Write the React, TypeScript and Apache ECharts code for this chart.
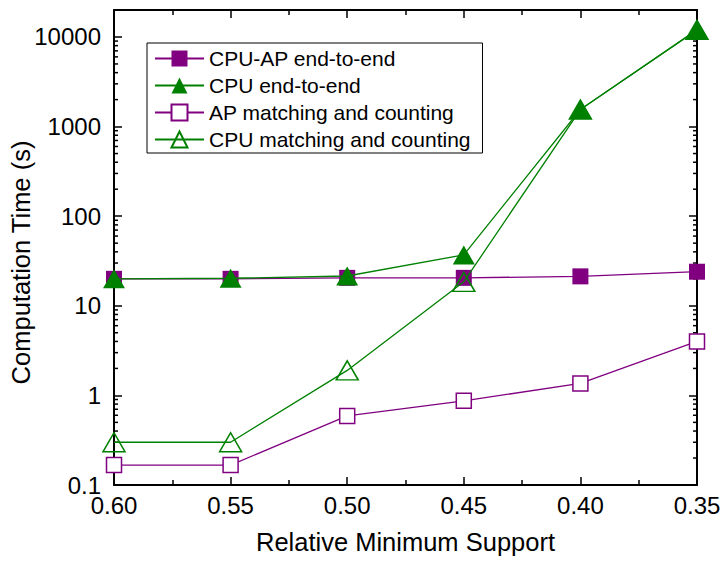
import React, { useEffect, useRef } from "react";
import * as echarts from "echarts";

const supports = [0.6, 0.55, 0.5, 0.45, 0.4, 0.35];
const cpuApEndToEnd = [20, 20, 20.5, 20.5, 21.3, 24];
const cpuEndToEnd = [20, 20.3, 21.5, 37, 1550, 12000];
const apMatching = [0.167, 0.167, 0.59, 0.87, 1.36, 4.0];
const cpuMatching = [0.3, 0.3, 1.9, 18.5, 1550, 12000];
const seriesNames = [
  "CPU-AP end-to-end",
  "CPU end-to-end",
  "AP matching and counting",
  "CPU matching and counting",
];
const yMin = 0.1;
const yMax = 20000;
const minorMultipliers = [2, 3, 4, 5, 6, 7, 8, 9];
const decades = [0.1, 1, 10, 100, 1000, 10000];

const PURPLE = "#800080";
const GREEN = "#008000";
const FONT = 'Arial, "Liberation Sans", sans-serif';

export default function App() {
  const ref = useRef<HTMLDivElement>(null);
  useEffect(() => {
    if (!ref.current) return;
    const chart = echarts.init(ref.current, null, { renderer: "svg" });
    const pair = (vals: number[]) => supports.map((s, i) => [s, vals[i]]);
    const minorVals: number[][] = [];
    decades.forEach((d) =>
      minorMultipliers.forEach((m) => {
        const v = +(d * m).toPrecision(6);
        if (v < yMax) minorVals.push([supports[0], v]);
      })
    );
    const axisLine = { show: true, lineStyle: { color: "#000", width: 2 } };
    const xCommon = {
      type: "value",
      min: 0.35,
      max: 0.6,
      interval: 0.05,
      inverse: true,
      splitLine: { show: false },
      axisLine,
      axisTick: { show: true, inside: true, length: 8, lineStyle: { color: "#000", width: 1.5 } },
      minorTick: { show: true, splitNumber: 2, length: 5, lineStyle: { color: "#000", width: 1.5 } },
    };
    const isPow10 = (v: number) => Math.abs(Math.log10(v) - Math.round(Math.log10(v))) < 1e-6;
    const yCommon = {
      type: "log",
      logBase: 10,
      min: yMin,
      max: yMax,
      splitLine: { show: false },
      axisLine,
      axisTick: { show: true, inside: true, length: 8, lineStyle: { color: "#000", width: 1.5 } },
    };
    const option: any = {
      animation: false,
      backgroundColor: "#fff",
      grid: { left: 114, right: 28, top: 10, bottom: 76, containLabel: false, outerBoundsMode: "none" },
      legend: {
        data: seriesNames,
        orient: "vertical",
        left: 147,
        top: 43,
        padding: [5, 12, 3, 7],
        itemGap: 6,
        itemWidth: 49,
        itemHeight: 20,
        borderColor: "#000",
        borderWidth: 1,
        borderRadius: 0,
        textStyle: { fontFamily: FONT, fontSize: 21, color: "#000" },
      },
      xAxis: [
        {
          ...xCommon,
          position: "bottom",
          name: "Relative Minimum Support",
          nameLocation: "middle",
          nameGap: 44,
          nameMoveOverlap: false,
          nameTextStyle: { fontFamily: FONT, fontSize: 25.5, color: "#000" },
          axisLabel: {
            fontFamily: FONT,
            fontSize: 24,
            color: "#000",
            margin: 8,
            formatter: (v: number) => v.toFixed(2),
          },
        },
        { ...xCommon, position: "top", axisLabel: { show: false } },
      ],
      yAxis: [
        {
          ...yCommon,
          position: "left",
          name: "Computation Time (s)",
          nameLocation: "middle",
          nameGap: 80,
          nameMoveOverlap: false,
          nameTextStyle: { fontFamily: FONT, fontSize: 25.5, color: "#000", padding: [0, 30, 0, 0] },
          axisLabel: {
            fontFamily: FONT,
            fontSize: 24,
            color: "#000",
            margin: 13,
            formatter: (v: number) => (isPow10(v) ? String(+v.toPrecision(6)) : ""),
          },
        },
        { ...yCommon, position: "right", axisLabel: { show: false } },
      ],
      series: [
        {
          type: "custom",
          silent: true,
          clip: false,
          z: 1,
          data: minorVals,
          renderItem: (params: any, api: any) => {
            const v = api.value(1);
            const l = api.coord([0.6, v]);
            const r = api.coord([0.35, v]);
            const st = { stroke: "#000", lineWidth: 1.5 };
            return {
              type: "group",
              children: [
                { type: "line", shape: { x1: l[0], y1: l[1], x2: l[0] + 4, y2: l[1] }, style: st },
                { type: "line", shape: { x1: r[0], y1: r[1], x2: r[0] - 4, y2: r[1] }, style: st },
              ],
            };
          },
        },
        {
          name: seriesNames[0],
          type: "line",
          data: pair(cpuApEndToEnd),
          symbol: "rect",
          symbolSize: 16,
          lineStyle: { color: PURPLE, width: 1.3 },
          itemStyle: { color: PURPLE },
          z: 3,
        },
        {
          name: seriesNames[1],
          type: "line",
          data: pair(cpuEndToEnd),
          symbol: "triangle",
          symbolSize: [22, 19],
          lineStyle: { color: GREEN, width: 1.3 },
          itemStyle: { color: GREEN },
          z: 4,
        },
        {
          name: seriesNames[2],
          type: "line",
          data: pair(apMatching),
          symbol: "rect",
          symbolSize: 15,
          lineStyle: { color: PURPLE, width: 1.3 },
          itemStyle: { color: "#fff", borderColor: PURPLE, borderWidth: 1.5 },
          z: 5,
        },
        {
          name: seriesNames[3],
          type: "line",
          data: pair(cpuMatching),
          symbol: "triangle",
          symbolSize: [22, 19],
          lineStyle: { color: GREEN, width: 1.3 },
          itemStyle: { color: "rgba(255,255,255,0)", borderColor: GREEN, borderWidth: 1.5 },
          z: 6,
        },
      ],
    };
    chart.setOption(option);
    return () => chart.dispose();
  }, []);
  return <div ref={ref} style={{ width: 725, height: 561, position: "absolute", left: 0, top: 0 }} />;
}
